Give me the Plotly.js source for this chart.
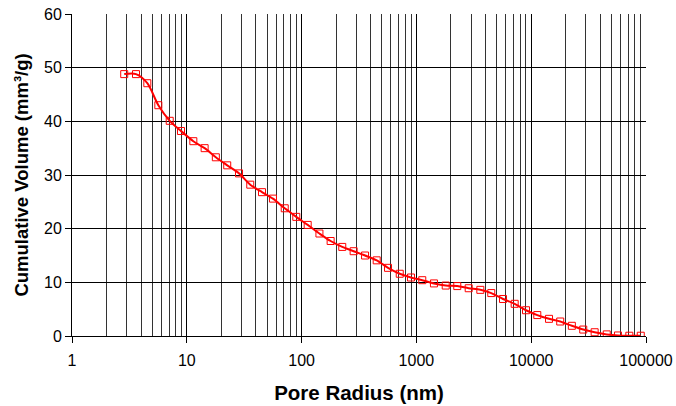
<!DOCTYPE html>
<html>
<head>
<meta charset="utf-8">
<script src="https://cdn.plot.ly/plotly-3.0.1.min.js"></script>
<style>html,body{margin:0;padding:0;background:#fff;}#chart{width:676px;height:406px;}</style>
</head>
<body>
<div id="chart"></div>
<script>
const poreRadius = [2.85,3.61,4.53,5.65,7.10,8.90,11.4,14.3,17.9,22.5,28.5,35.7,45.2,56.3,71.3,89.9,113,143,179,226,284,357,451,566,716,897,1125,1422,1800,2270,2855,3605,4490,5680,7180,9010,11300,14300,17900,22600,28400,35700,45500,57000,71600,90000];
const cumulativeVolume = [48.8,48.8,47.1,43.0,40.1,38.2,36.3,35.0,33.3,31.8,30.3,28.2,26.8,25.6,23.8,22.2,20.7,19.1,17.7,16.6,15.8,15.0,14.1,12.7,11.6,10.9,10.4,9.8,9.4,9.3,8.9,8.6,8.0,6.9,6.0,4.8,3.9,3.2,2.7,1.9,1.2,0.7,0.3,0.1,0.05,0.05];
const xTickVals = [1,10,100,1000,10000,100000];
const xTickText = ['1','10','100','1000','10000','100000'];
const yTickVals = [0,10,20,30,40,50,60];
const yTickText = ['0','10','20','30','40','50','60'];

const minorVals = [];
for (let d = 1; d < 100000; d *= 10) {
  for (let k = 2; k <= 9; k++) minorVals.push(k * d);
}

const font = {family: 'Liberation Sans, Arial, sans-serif', color: '#000'};

const trace = {
  x: poreRadius,
  y: cumulativeVolume,
  type: 'scatter',
  mode: 'lines+markers',
  line: {color: '#ff0000', width: 2, shape: 'spline', smoothing: 0.8},
  marker: {symbol: 'square-open', size: 7, color: '#ff0000', line: {width: 1, color: '#ff0000'}},
  hoverinfo: 'x+y'
};

const layout = {
  width: 676, height: 406,
  margin: {l: 72, r: 30, t: 14, b: 70},
  paper_bgcolor: '#fff', plot_bgcolor: '#fff',
  showlegend: false,
  font: Object.assign({size: 16}, font),
  xaxis: {
    type: 'log', range: [0, 5],
    tickmode: 'array', tickvals: xTickVals, ticktext: xTickText,
    ticks: 'outside', ticklen: 6, tickcolor: '#000', tickwidth: 1,
    ticklabelstandoff: 4,
    showline: true, linecolor: '#000', linewidth: 1,
    showgrid: true, gridcolor: '#000', gridwidth: 1,
    minor: {tickmode: 'array', tickvals: minorVals, showgrid: true, gridcolor: '#333', gridwidth: 1, ticks: ''},
    tickfont: Object.assign({size: 16}, font),
    zeroline: false,
    title: {text: '<b>Pore Radius (nm)</b>', font: Object.assign({size: 20.5}, font), standoff: 17}
  },
  yaxis: {
    range: [0, 60],
    tickmode: 'array', tickvals: yTickVals, ticktext: yTickText,
    ticks: 'outside', ticklen: 6, tickcolor: '#000', tickwidth: 1,
    showline: true, linecolor: '#000', linewidth: 1,
    showgrid: true, gridcolor: '#000', gridwidth: 1,
    tickfont: Object.assign({size: 16}, font),
    zeroline: false,
    title: {text: '<b>Cumulative Volume (mm³/g)</b>', font: Object.assign({size: 18.5}, font), standoff: 10}
  }
};

Plotly.newPlot('chart', [trace], layout, {displayModeBar: false, staticPlot: true});
</script>
</body>
</html>
